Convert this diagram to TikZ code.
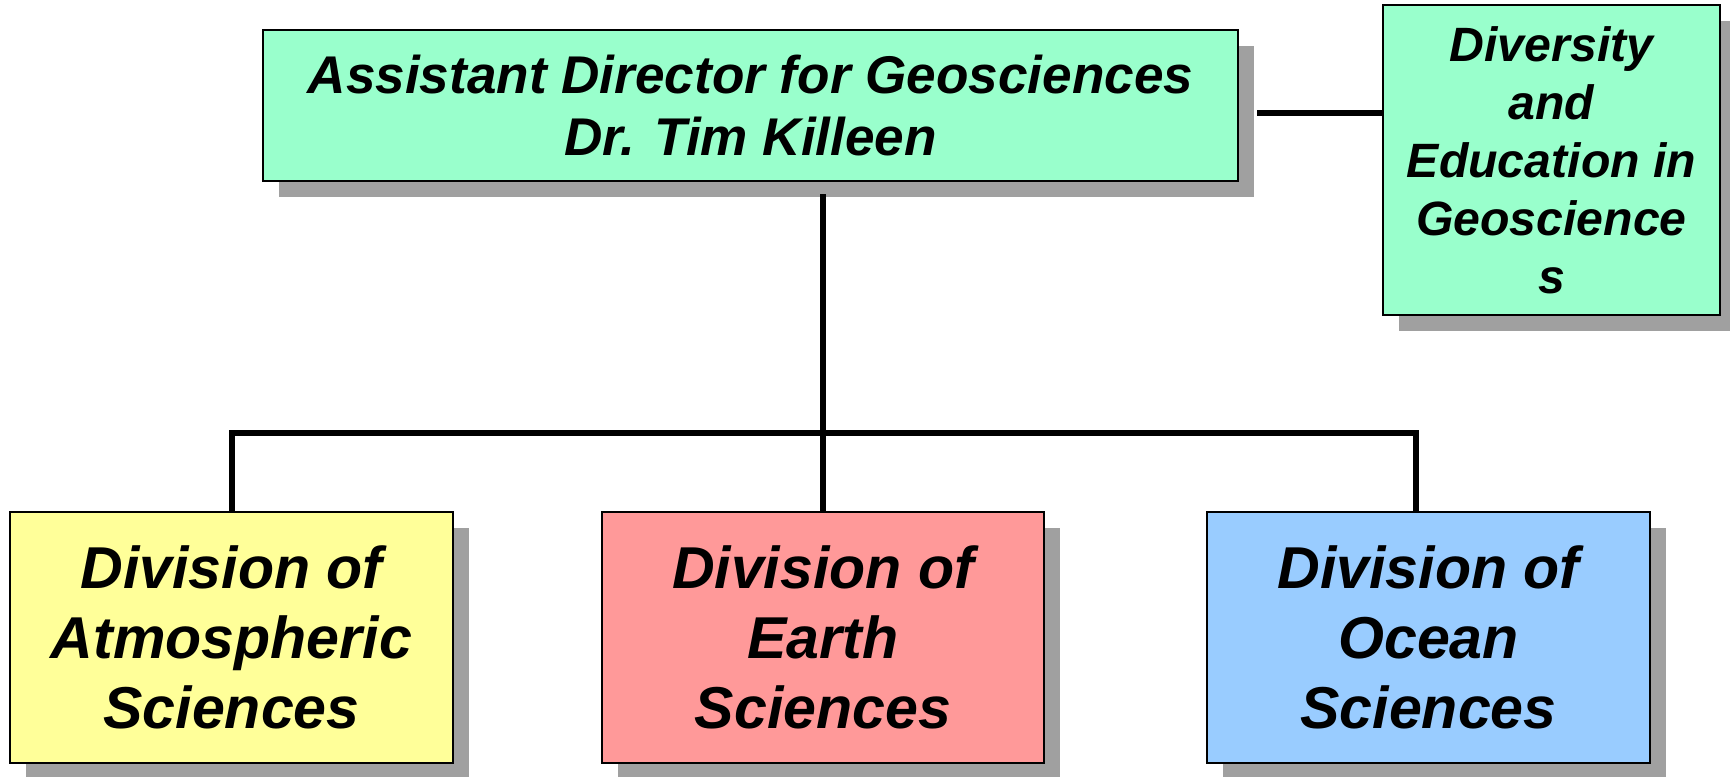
\documentclass[tikz,border=0pt]{standalone}
\usepackage{fontspec}
\setmainfont{Liberation Sans}
\usetikzlibrary{shadows}

\definecolor{mint}{HTML}{99FFCC}
\definecolor{lemon}{HTML}{FFFF99}
\definecolor{rose}{HTML}{FF9999}
\definecolor{sky}{HTML}{99CCFF}
\definecolor{shade}{HTML}{A0A0A0}

\begin{document}
\begin{tikzpicture}[x=0.01cm,y=-0.01cm,
	box/.style={draw=black,line width=0.02cm,align=center,inner sep=0pt,
		font=\bfseries\itshape,
		drop shadow={shadow xshift=0.16cm,shadow yshift=-0.16cm,fill=shade,opacity=1}},
	link/.style={line width=0.06cm}]
\useasboundingbox (0,0) rectangle (1730,777);
\node[box,fill=mint,minimum width=9.75cm,minimum height=1.51cm,
	font=\fontsize{15.1}{17.4}\selectfont\bfseries\itshape] (ad) at (750.5,105.5)
	{Assistant Director for Geosciences\\Dr. Tim Killeen};
\node[box,fill=mint,minimum width=3.37cm,minimum height=3.10cm,
	font=\fontsize{13.7}{16.5}\selectfont\bfseries\itshape] (div) at (1551.5,160)
	{Diversity\\and\\Education in\\Geoscience\\s};
\node[box,fill=lemon,minimum width=4.43cm,minimum height=2.51cm,
	font=\fontsize{16.8}{19.9}\selectfont\bfseries\itshape] (atm) at (231.5,637.5)
	{Division of\\Atmospheric\\Sciences};
\node[box,fill=rose,minimum width=4.42cm,minimum height=2.51cm,
	font=\fontsize{16.8}{19.9}\selectfont\bfseries\itshape] (ear) at (823,637.5)
	{Division of\\Earth\\Sciences};
\node[box,fill=sky,minimum width=4.43cm,minimum height=2.51cm,
	font=\fontsize{16.8}{19.9}\selectfont\bfseries\itshape] (oce) at (1428.5,637.5)
	{Division of\\Ocean\\Sciences};
\coordinate (lk) at ([shift={(0.18cm,-0.075cm)}]ad.east);
\coordinate (bus) at (824,433);
\draw[link] (lk) -- (lk -| div.west);
\draw[link] (ear.north) -- ([yshift=-0.12cm]ear.north |- ad.south);
\draw[link] (atm.north) |- (bus) -| ([xshift=-0.125cm]oce.north);
\end{tikzpicture}
\end{document}
